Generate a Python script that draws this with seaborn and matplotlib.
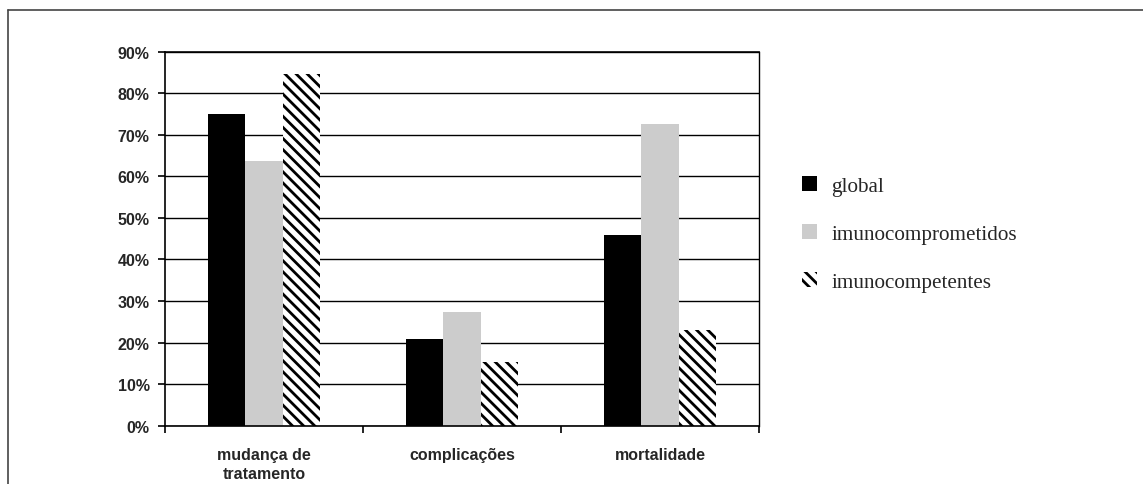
import matplotlib
matplotlib.use("Agg")
import matplotlib.pyplot as plt
import seaborn as sns
import pandas as pd
from matplotlib.patches import Patch
from matplotlib.lines import Line2D
from matplotlib.ticker import FixedLocator, NullFormatter

# Outcome categories and the share (%) for each patient group
categories = ["mudança de\ntratamento", "complicações", "mortalidade"]
groups = ["global", "imunocomprometidos", "imunocompetentes"]
global_vals = [75.0, 20.8, 45.8]
imunocomprometidos_vals = [63.6, 27.3, 72.7]
imunocompetentes_vals = [84.6, 15.4, 23.1]
y_ticks = [0, 10, 20, 30, 40, 50, 60, 70, 80, 90]

df = pd.DataFrame({
    "categoria": categories * 3,
    "grupo": [groups[0]] * 3 + [groups[1]] * 3 + [groups[2]] * 3,
    "valor": global_vals + imunocomprometidos_vals + imunocompetentes_vals,
})

sns.set_theme(style="white")
plt.rcParams["hatch.linewidth"] = 2.0

fig = plt.figure(figsize=(11.43, 4.85), dpi=100)
ax = fig.add_axes([165 / 1143, 1 - 426.7 / 485, 594 / 1143, 374 / 485])

palette = {"global": "#000000", "imunocomprometidos": "#cccccc", "imunocompetentes": "#ffffff"}
sns.barplot(data=df, x="categoria", y="valor", hue="grupo", hue_order=groups,
            order=categories, palette=palette, width=0.57, gap=0,
            saturation=1, linewidth=0, ax=ax, legend=False, errorbar=None)

# hatch the immunocompetent bars with thick diagonal stripes
hatch_pattern = "\\\\\\"
for container, grp in zip(ax.containers, groups):
    if grp == "imunocompetentes":
        for bar in container:
            bar.set_facecolor("white")
            bar.set_edgecolor("black")
            bar.set_hatch(hatch_pattern)
            bar.set_linewidth(0)

tick_font = {"family": "Liberation Sans", "weight": "bold", "size": 11.5}

ax.set_ylim(0, 90)
ax.set_xlim(-0.5, 2.5)
ax.set_yticks(y_ticks)
ax.set_yticklabels([f"{v}%" for v in y_ticks], fontdict=tick_font)
ax.yaxis.grid(True, color="black", linewidth=1.0)
ax.set_axisbelow(True)
ax.set_xlabel("")
ax.set_ylabel("")

ax.set_xticks(range(len(categories)))
ax.set_xticklabels(categories, fontdict=tick_font, linespacing=1.35)
ax.tick_params(axis="x", which="major", length=0, pad=15)
ax.xaxis.set_minor_locator(FixedLocator([-0.5, 0.5, 1.5, 2.5]))
ax.xaxis.set_minor_formatter(NullFormatter())
ax.tick_params(axis="x", which="minor", length=5, width=1.2, color="black", direction="out", bottom=True)
ax.tick_params(axis="y", which="major", length=5, width=1.2, color="black", direction="out", left=True, pad=6)

for side in ["left", "bottom", "right", "top"]:
    ax.spines[side].set_color("black")
    ax.spines[side].set_linewidth(1.2)
ax.spines["right"].set_linewidth(1.0)

# Legend to the right of the plot
handles = [
    Patch(facecolor="#000000", edgecolor="none", label=groups[0]),
    Patch(facecolor="#cccccc", edgecolor="none", label=groups[1]),
    Patch(facecolor="white", edgecolor="black", hatch="\\\\\\", linewidth=0, label=groups[2]),
]
fig.legend(handles=handles, loc="center left", bbox_to_anchor=(802 / 1143, 1 - 235 / 485),
           frameon=False, prop={"family": "Liberation Serif", "size": 15.2},
           handlelength=0.7, handleheight=0.7, handletextpad=0.7,
           labelspacing=1.33, borderpad=0, borderaxespad=0)

# Frame lines around the figure (top and left)
fig.add_artist(Line2D([8 / 1143, 1], [1 - 11 / 485, 1 - 11 / 485], transform=fig.transFigure,
                      color="#444444", linewidth=1.2))
fig.add_artist(Line2D([8 / 1143, 8 / 1143], [0, 1 - 11 / 485], transform=fig.transFigure,
                      color="#444444", linewidth=1.2))

fig.savefig("out.png", dpi=100, facecolor="white")
